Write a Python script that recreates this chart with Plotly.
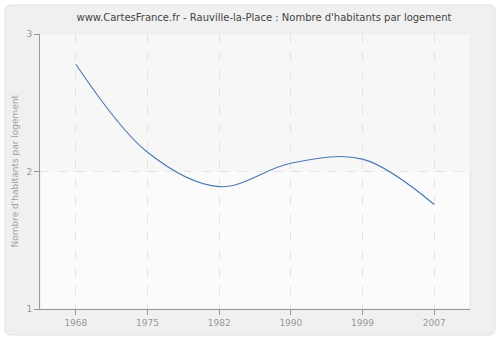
import plotly.graph_objects as go

years = ["1968", "1975", "1982", "1990", "1999", "2007"]
values = [2.78, 2.14, 1.89, 2.06, 2.09, 1.76]
y_ticks = [1, 2, 3]
title_text = "www.CartesFrance.fr - Rauville-la-Place : Nombre d'habitants par logement"
y_title = "Nombre d'habitants par logement"

L, R, T, B = 40, 30, 34, 31
W, H = 500, 340
pw, ph = W - L - R, H - T - B

def px_x(p):
    return (p - L) / pw

def px_y(p):
    return (H - B - p) / ph

fig = go.Figure()
fig.add_trace(go.Scatter(
    x=years, y=values, mode="lines",
    line=dict(color="#4a78b2", width=1.1, shape="spline", smoothing=1),
    hoverinfo="x+y",
))

x0, x1, y0, y1 = px_x(5), px_x(495), px_y(335), px_y(5)
r = 6 / pw
rv = 6 / ph
path = (f"M {x0+r},{y0} L {x1-r},{y0} Q {x1},{y0} {x1},{y0+rv} "
        f"L {x1},{y1-rv} Q {x1},{y1} {x1-r},{y1} L {x0+r},{y1} Q {x0},{y1} {x0},{y1-rv} "
        f"L {x0},{y0+rv} Q {x0},{y0} {x0+r},{y0} Z")

shapes = [
    dict(type="path", xref="paper", yref="paper", path=path,
         fillcolor="#f0f0f0", line=dict(color="#e2e2e2", width=1), layer="below"),
    dict(type="rect", xref="paper", yref="paper", x0=0, x1=1, y0=0, y1=1,
         fillcolor="#fbfbfb", line=dict(color="#e6e6e6", width=1), layer="below"),
    dict(type="rect", xref="paper", yref="y", x0=0, x1=1, y0=2, y1=3,
         fillcolor="#f7f7f7", line=dict(width=0), layer="below"),
]

fig.update_layout(
    width=W, height=H,
    margin=dict(l=L, r=R, t=T, b=B),
    paper_bgcolor="white",
    plot_bgcolor="rgba(0,0,0,0)",
    showlegend=False,
    shapes=shapes,
    font=dict(family="DejaVu Sans", size=9, color="#999999"),
    title=dict(text=title_text, x=px_x(267), xanchor="center", y=1 - 17 / H, yanchor="middle",
               font=dict(family="DejaVu Sans", size=10, color="#444444")),
    annotations=[dict(text=y_title, xref="paper", yref="paper", x=px_x(14), y=0.5,
                      textangle=-90, showarrow=False, xanchor="center", yanchor="middle",
                      font=dict(family="DejaVu Sans", size=9, color="#a0a0a0"))],
)
fig.update_xaxes(
    type="category", range=[-0.5, 5.5],
    showgrid=True, gridcolor="#e4e4e4", griddash="dash", gridwidth=1,
    showline=True, linecolor="#999999", linewidth=1,
    ticks="outside", ticklen=5, tickcolor="#999999",
    zeroline=False, fixedrange=True,
)
fig.update_yaxes(
    range=[1, 3], tickvals=y_ticks,
    showgrid=True, gridcolor="#e4e4e4", griddash="dash", gridwidth=1,
    showline=True, linecolor="#999999", linewidth=1,
    ticks="outside", ticklen=5, tickcolor="#999999",
    zeroline=False, fixedrange=True,
)

fig.write_html("out.html")
